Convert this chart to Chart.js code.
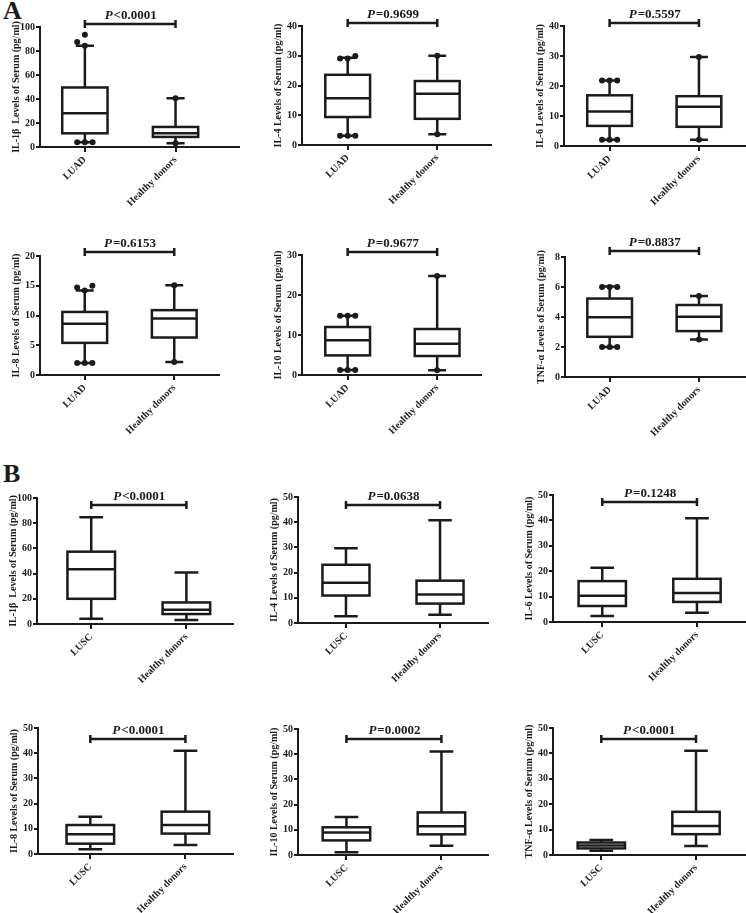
<!DOCTYPE html>
<html>
<head>
<meta charset="utf-8">
<script src="https://cdn.jsdelivr.net/npm/chart.js@4.4.1/dist/chart.umd.min.js"></script>
<style>
  body { margin: 0; background: #fff; width: 746px; height: 913px; position: relative; overflow: hidden; font-family: "Liberation Serif", serif; }
  canvas { position: absolute; }
  .tag { position: absolute; font-weight: bold; font-size: 26px; line-height: 1; color: #1b1b1b; }
</style>
</head>
<body>
<div class="tag" style="left:3px;top:-2px">A</div>
<div class="tag" style="left:3px;top:461px">B</div>
<script>
const groupsA = ["LUAD", "Healthy donors"];
const groupsB = ["LUSC", "Healthy donors"];
const cytokines = ["IL-1β ", "IL-4", "IL-6", "IL-8", "IL-10", "TNF-α"];

// box stats per cytokine: [lower whisker, Q1, median, Q3, upper whisker] (pg/ml)
const luadBoxes = [
  [3.9, 11.4, 28.1, 49.6, 84.4],
  [3.1, 9.4, 15.7, 23.6, 29.3],
  [2.1, 6.7, 11.5, 16.9, 21.8],
  [2.0, 5.4, 8.6, 10.6, 14.2],
  [1.25, 4.9, 8.7, 12.0, 14.8],
  [2.0, 2.68, 3.98, 5.23, 6.03]
];
const healthyBoxesA = [
  [3.1, 8.4, 11.4, 16.7, 40.7],
  [3.6, 8.8, 17.2, 21.5, 30.0],
  [2.1, 6.4, 13.1, 16.6, 29.7],
  [2.2, 6.3, 9.5, 10.9, 15.1],
  [1.2, 4.75, 7.8, 11.5, 24.75],
  [2.5, 3.06, 4.02, 4.8, 5.4]
];
const luscBoxes = [
  [4.2, 20.0, 43.4, 57.4, 84.7],
  [2.7, 10.9, 16.0, 23.1, 29.7],
  [2.4, 6.3, 10.3, 16.1, 21.4],
  [1.85, 4.1, 7.8, 11.5, 14.8],
  [1.06, 5.8, 8.9, 11.0, 15.1],
  [1.7, 2.6, 3.7, 4.9, 5.9]
];
const healthyBoxesB = [
  [3.2, 7.9, 11.3, 17.1, 40.8],
  [3.3, 7.7, 11.3, 16.8, 40.8],
  [3.6, 7.9, 11.4, 17.0, 40.8],
  [3.6, 8.1, 11.5, 16.8, 41.0],
  [3.7, 8.2, 11.4, 16.9, 41.1],
  [3.55, 8.2, 11.4, 17.0, 41.0]
];

// dots shown in panel A: [value, lane]  (lane -1 left, 0 centre, 1 right)
const luadDots = [
  [[84.4, 0], [87.5, -1], [93.6, 0], [3.9, -1], [3.9, 0], [3.9, 1]],
  [[29.1, -1], [29.1, 0], [29.9, 1], [3.1, -1], [3.1, 0], [3.1, 1]],
  [[21.8, -1], [21.8, 0], [21.8, 1], [2.1, -1], [2.1, 0], [2.1, 1]],
  [[14.7, -1], [14.2, 0], [15.0, 1], [2.0, -1], [2.0, 0], [2.0, 1]],
  [[14.8, -1], [14.8, 0], [14.8, 1], [1.25, -1], [1.25, 0], [1.25, 1]],
  [[6.0, -1], [6.0, 0], [6.0, 1], [2.0, -1], [2.0, 0], [2.0, 1]]
];
const healthyDotsA = [
  [[40.7, 0], [3.1, 0]],
  [[30.0, 0], [3.6, 0]],
  [[29.7, 0], [2.1, 0]],
  [[15.1, 0], [2.2, 0]],
  [[24.75, 0], [1.2, 0]],
  [[5.4, 0], [2.5, 0]]
];

const pValuesA = ["P<0.0001", "P=0.9699", "P=0.5597", "P=0.6153", "P=0.9677", "P=0.8837"];
const pValuesB = ["P<0.0001", "P=0.0638", "P=0.1248", "P<0.0001", "P=0.0002", "P<0.0001"];

const yMaxA = [100, 40, 40, 20, 30, 8];
const yStepA = [20, 10, 10, 5, 10, 2];
const yMaxB = [100, 50, 50, 50, 50, 50];
const yStepB = [20, 10, 10, 10, 10, 10];

// page placement: axis left, top tick, zero line, axis right end, x range, bracket level
const layoutA = [
  { left: 40, top: 27, base: 147, right: 240, xMin: 0.505, xMax: 2.70, bar: 102.8 },
  { left: 302, top: 26, base: 145, right: 492, xMin: 0.49, xMax: 2.6, bar: 41.0 },
  { left: 564, top: 26, base: 146, right: 750, xMin: 0.49, xMax: 2.56, bar: 41.1 },
  { left: 40, top: 256, base: 375, right: 220, xMin: 0.5, xMax: 2.5, bar: 20.6 },
  { left: 302, top: 255, base: 375, right: 482, xMin: 0.49, xMax: 2.49, bar: 30.8 },
  { left: 565, top: 257, base: 377, right: 750, xMin: 0.5, xMax: 2.56, bar: 8.38 }
];
const layoutB = [
  { left: 37, top: 498, base: 624, right: 233, xMin: 0.43, xMax: 2.49, bar: 94.2 },
  { left: 298, top: 497, base: 623, right: 488, xMin: 0.49, xMax: 2.51, bar: 46.9 },
  { left: 553, top: 495, base: 622, right: 750, xMin: 0.48, xMax: 2.56, bar: 47.1 },
  { left: 38, top: 728, base: 854, right: 233, xMin: 0.45, xMax: 2.5, bar: 45.8 },
  { left: 298, top: 729, base: 855, right: 488, xMin: 0.49, xMax: 2.49, bar: 46.0 },
  { left: 553, top: 728, base: 855, right: 750, xMin: 0.49, xMax: 2.57, bar: 45.8 }
];

const ink = "#1b1b1b";
const serif = "'Liberation Serif', 'Times New Roman', serif";
const AXIS_W = 40;
const AXIS_H = 64;
const LANE = 0.085;

// boxes, whiskers and the significance bracket, all placed through the chart scales
const boxPlugin = {
  id: "boxplot",
  beforeDatasetsDraw(chart) {
    const o = chart.options.plugins.boxplot;
    const { ctx } = chart;
    const x = chart.scales.x, y = chart.scales.y;
    ctx.save();
    ctx.strokeStyle = ink;
    ctx.lineWidth = 2.5;
    o.boxes.forEach((s, i) => {
      const cx = x.getPixelForValue(i + 1);
      const half = x.getPixelForValue(i + 1 + o.boxWidth / 2) - cx;
      const cap = x.getPixelForValue(i + 1 + o.capWidth / 2) - cx;
      const [lo, q1, med, q3, hi] = s.map((v) => y.getPixelForValue(v));
      ctx.beginPath();
      ctx.moveTo(cx, lo); ctx.lineTo(cx, q1);
      ctx.moveTo(cx, q3); ctx.lineTo(cx, hi);
      ctx.moveTo(cx - cap, lo); ctx.lineTo(cx + cap, lo);
      ctx.moveTo(cx - cap, hi); ctx.lineTo(cx + cap, hi);
      ctx.stroke();
      ctx.fillStyle = "#fff";
      ctx.fillRect(cx - half, q3, half * 2, q1 - q3);
      ctx.strokeRect(cx - half, q3, half * 2, q1 - q3);
      ctx.beginPath();
      ctx.moveTo(cx - half, med); ctx.lineTo(cx + half, med);
      ctx.stroke();
    });

    const x1 = x.getPixelForValue(1), x2 = x.getPixelForValue(2);
    const by = Math.round(y.getPixelForValue(o.bar));
    ctx.beginPath();
    ctx.moveTo(x1, by - 4); ctx.lineTo(x1, by + 4);
    ctx.moveTo(x1, by); ctx.lineTo(x2, by);
    ctx.moveTo(x2, by - 4); ctx.lineTo(x2, by + 4);
    ctx.stroke();

    const letter = o.p.charAt(0), rest = o.p.slice(1);
    ctx.fillStyle = ink;
    ctx.textBaseline = "alphabetic";
    ctx.font = "italic bold 13px " + serif;
    const w1 = ctx.measureText(letter).width;
    ctx.font = "bold 13px " + serif;
    const w2 = ctx.measureText(rest).width;
    const sx = (x1 + x2) / 2 - (w1 + w2) / 2;
    ctx.font = "italic bold 13px " + serif;
    ctx.fillText(letter, sx, by - 5);
    ctx.font = "bold 13px " + serif;
    ctx.fillText(rest, sx + w1 + 1, by - 5);
    ctx.restore();
  }
};

function makePanel(pos, groups, boxes, dots, p, yMax, yStep, title, capWidth) {
  const padTop = Math.min(34, pos.top);
  const canvas = document.createElement("canvas");
  const w = pos.right - pos.left + AXIS_W + 2;
  const h = padTop + (pos.base - pos.top) + AXIS_H;
  canvas.width = w;
  canvas.height = h;
  canvas.style.left = (pos.left - AXIS_W) + "px";
  canvas.style.top = (pos.top - padTop) + "px";
  canvas.style.width = w + "px";
  canvas.style.height = h + "px";
  document.body.appendChild(canvas);

  const points = [];
  dots.forEach((list, gi) => {
    list.forEach((d) => points.push({ x: gi + 1 + d[1] * LANE, y: d[0] }));
  });

  const tickFont = { family: serif, weight: "bold", size: 10 };

  new Chart(canvas, {
    type: "scatter",
    data: {
      datasets: [{
        data: points,
        pointRadius: 3,
        pointHoverRadius: 3,
        backgroundColor: ink,
        borderColor: ink,
        borderWidth: 0
      }]
    },
    options: {
      responsive: false,
      animation: false,
      devicePixelRatio: 1,
      layout: { padding: { top: padTop, right: 2, left: 0, bottom: 0 } },
      plugins: {
        legend: { display: false },
        tooltip: { enabled: false },
        boxplot: { boxes: boxes, boxWidth: 0.5, capWidth: capWidth, bar: pos.bar, p: p }
      },
      scales: {
        x: {
          type: "linear",
          min: pos.xMin,
          max: pos.xMax,
          afterBuildTicks: (s) => { s.ticks = [{ value: 1 }, { value: 2 }]; },
          afterFit: (s) => { s.height = AXIS_H; },
          ticks: {
            callback: (v) => groups[v - 1],
            minRotation: 45,
            maxRotation: 45,
            autoSkip: false,
            color: ink,
            font: tickFont,
            padding: 2
          },
          grid: { display: true, drawOnChartArea: false, drawTicks: true, tickLength: 5, color: ink, lineWidth: 2 },
          border: { display: true, color: ink, width: 2 }
        },
        y: {
          min: 0,
          max: yMax,
          afterFit: (s) => { s.width = AXIS_W; },
          ticks: { stepSize: yStep, color: ink, font: tickFont, padding: 1 },
          grid: { display: true, drawOnChartArea: false, drawTicks: true, tickLength: 4, color: ink, lineWidth: 2 },
          border: { display: true, color: ink, width: 2 },
          title: {
            display: true,
            text: title + " Levels of Serum (pg/ml)",
            color: ink,
            font: { family: serif, weight: "bold", size: 10 },
            padding: { top: 10, bottom: 0 }
          }
        }
      }
    },
    plugins: [boxPlugin]
  });
}

for (let i = 0; i < 6; i++) {
  makePanel(layoutA[i], groupsA, [luadBoxes[i], healthyBoxesA[i]], [luadDots[i], healthyDotsA[i]],
    pValuesA[i], yMaxA[i], yStepA[i], cytokines[i], 0.2);
  makePanel(layoutB[i], groupsB, [luscBoxes[i], healthyBoxesB[i]], [[], []],
    pValuesB[i], yMaxB[i], yStepB[i], cytokines[i], 0.25);
}
</script>
</body>
</html>
